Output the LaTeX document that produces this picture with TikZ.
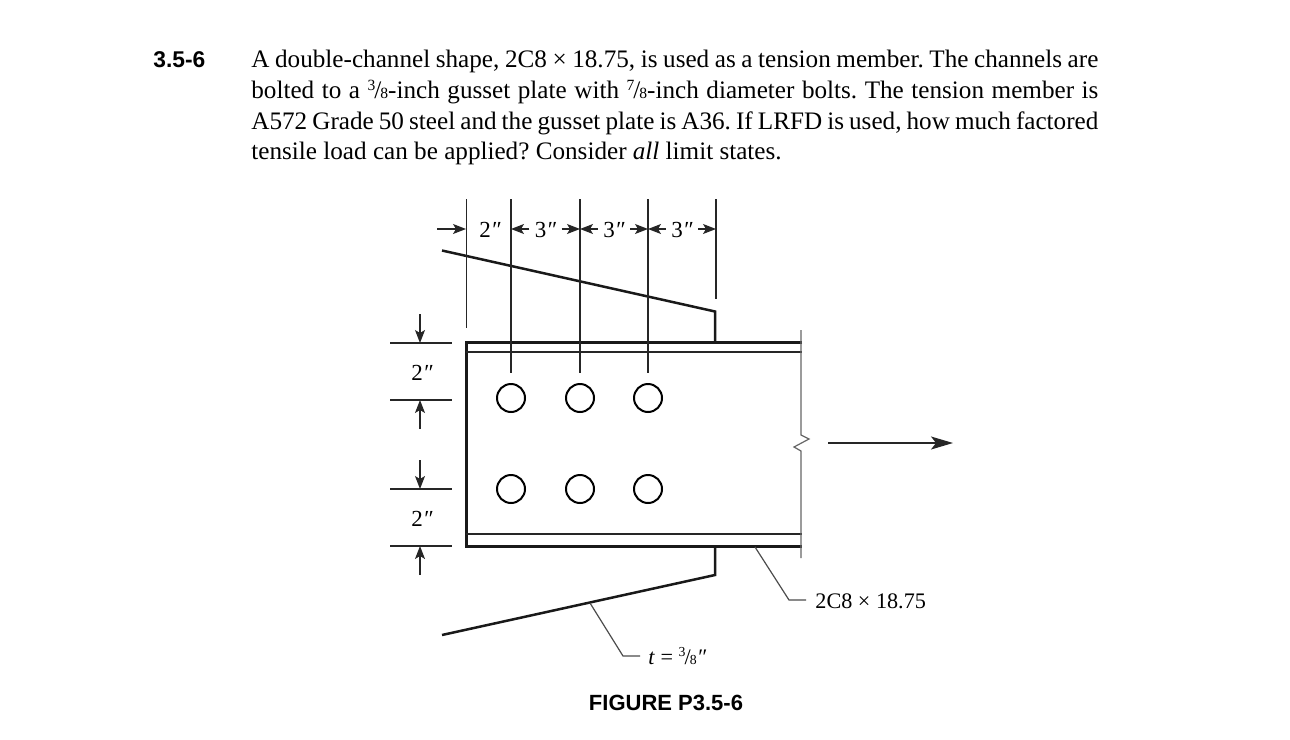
\documentclass[tikz,border=0pt]{standalone}
\usepackage{fontspec}
\setmainfont{Liberation Serif}
\setsansfont{Liberation Sans}
\usetikzlibrary{arrows.meta}
\newcommand{\fracpart}[2]{\raisebox{.32em}{\scalebox{.62}{#1}}\kern-.04em/\kern-.04em\scalebox{.62}{#2}}
\newcommand{\inchmark}{\textit{″}}
\tikzset{
  thinline/.style={line width=0.6pt,black!85},
  heavyline/.style={line width=1.5pt,black!90},
  plateline/.style={line width=1.25pt,black!90},
  leaderline/.style={line width=0.6pt,black!70},
  dimarrow/.style={line width=0.6pt,black!85,-{Stealth[length=6.5pt,width=5pt,inset=1.5pt]}},
  dimlabel/.style={font=\fontsize{11.5}{13}\selectfont,inner sep=2.5pt},
  smalllabel/.style={anchor=west,inner sep=0pt,font=\fontsize{11.1}{13}\selectfont},
}
\begin{document}
\begin{tikzpicture}[x=0.5pt,y=-0.5pt]
        \useasboundingbox (0,0) rectangle (1290,739);
        %% problem text
        \node[anchor=base west,inner sep=0pt,font=\sffamily\bfseries\fontsize{11.4}{13}\selectfont] (number) at (153,67) {3.5-6};
        \node[anchor=north west,inner sep=0pt,text width=423.5pt,align=justify,font=\frenchspacing\fontsize{12.58}{15.3}\selectfont] (problem) at (251,50)
          {A double-channel shape, 2C8 × 18.75, is used as a tension member. The channels are\linebreak
           bolted to a \fracpart{3}{8}-inch gusset plate with \fracpart{7}{8}-inch diameter bolts. The tension member is\linebreak
           A572 Grade 50 steel and the gusset plate is A36. If LRFD is used, how much factored\linebreak
           tensile load can be applied? Consider \textit{all} limit states.};
        %% channels
        \coordinate (tl) at (466,342);
        \coordinate (tr) at (802,342);
        \coordinate (bl) at (466,546);
        \coordinate (br) at (802,546);
        \draw[heavyline] (tr) -- (tl) -- (bl) -- (br);
        \draw[thinline] (466,352) -- (802,352);
        \draw[thinline] (466,534) -- (802,534);
        %% break line
        \draw[thinline,black!60] (801,330) -- (801,435) -- (809,439) -- (794,447) -- (801,451) -- (801,558);
        %% gusset plate
        \coordinate (gt) at (715,342);
        \coordinate (gb) at (715,546);
        \draw[plateline] (442,250.5) -- (715,311.5) -- (gt);
        \draw[plateline] (442,635) -- (715,575) -- (gb);
        %% bolts
        \foreach \x/\n in {511/a,580/b,648/c} {
          \draw[line width=1pt] (\x,398) circle (14);
          \draw[line width=1pt] (\x,489) circle (14);
          \coordinate (top\n) at (\x,199);
          \coordinate (low\n) at (\x,373);
          \draw[thinline] (top\n) -- (low\n);
        }
        %% extension lines on top
        \coordinate (topl) at (466.5,199);
        \coordinate (topr) at (716,199);
        \draw[thinline] (topl) -- (466.5,328);
        \draw[thinline] (topr) -- (716,299);
        %% top dimensions
        \coordinate (dimstart) at (437,229);
        \draw[dimarrow] (dimstart) -- (466,229);
        \node[dimlabel] (dima) at (490,230) {2\inchmark};
        \foreach \a/\b/\n in {511/580/x,580/648/y,648/716/z} {
          \node[dimlabel] (dim\n) at ({(\a+\b)/2},230) {3\inchmark};
          \draw[dimarrow] (dim\n.west |- 0,229) -- (\a,229);
          \draw[dimarrow] (dim\n.east |- 0,229) -- (\b,229);
        }
        %% left dimensions
        \foreach \ya/\yb/\n in {343/400/u,489/546/v} {
          \coordinate (up\n) at (420,\ya);
          \coordinate (lo\n) at (420,\yb);
          \draw[thinline] (390,\ya) -- (452,\ya);
          \draw[thinline] (390,\yb) -- (452,\yb);
          \draw[dimarrow] (420,\ya-29) -- (up\n);
          \draw[dimarrow] (420,\yb+29) -- (lo\n);
          \node[dimlabel] (dim\n) at (422,{(\ya+\yb)/2+1}) {2\inchmark};
        }
        %% leaders
        \node[smalllabel] (plate) at (648,656) {\textit{t} = \fracpart{3}{8}\inchmark};
        \node[smalllabel] (section) at (815,601) {2C8 × 18.75};
        \coordinate (platefoot) at (590,603);
        \coordinate (secfoot) at (755,547);
        \draw[leaderline] (platefoot) -- (623,656) -- (640,656);
        \draw[leaderline] (secfoot) -- (789,600) -- (806,600);
        %% load
        \coordinate (loadstart) at (828,443);
        \coordinate (loadend) at (953,443);
        \draw[thinline,-{Stealth[length=11pt,width=6.5pt,inset=2.5pt]}] (loadstart) -- (loadend);
        %% caption
        \node[inner sep=0pt,font=\sffamily\bfseries\fontsize{11}{13}\selectfont] (caption) at (666,703) {FIGURE P3.5-6};
    \end{tikzpicture}
\end{document}
